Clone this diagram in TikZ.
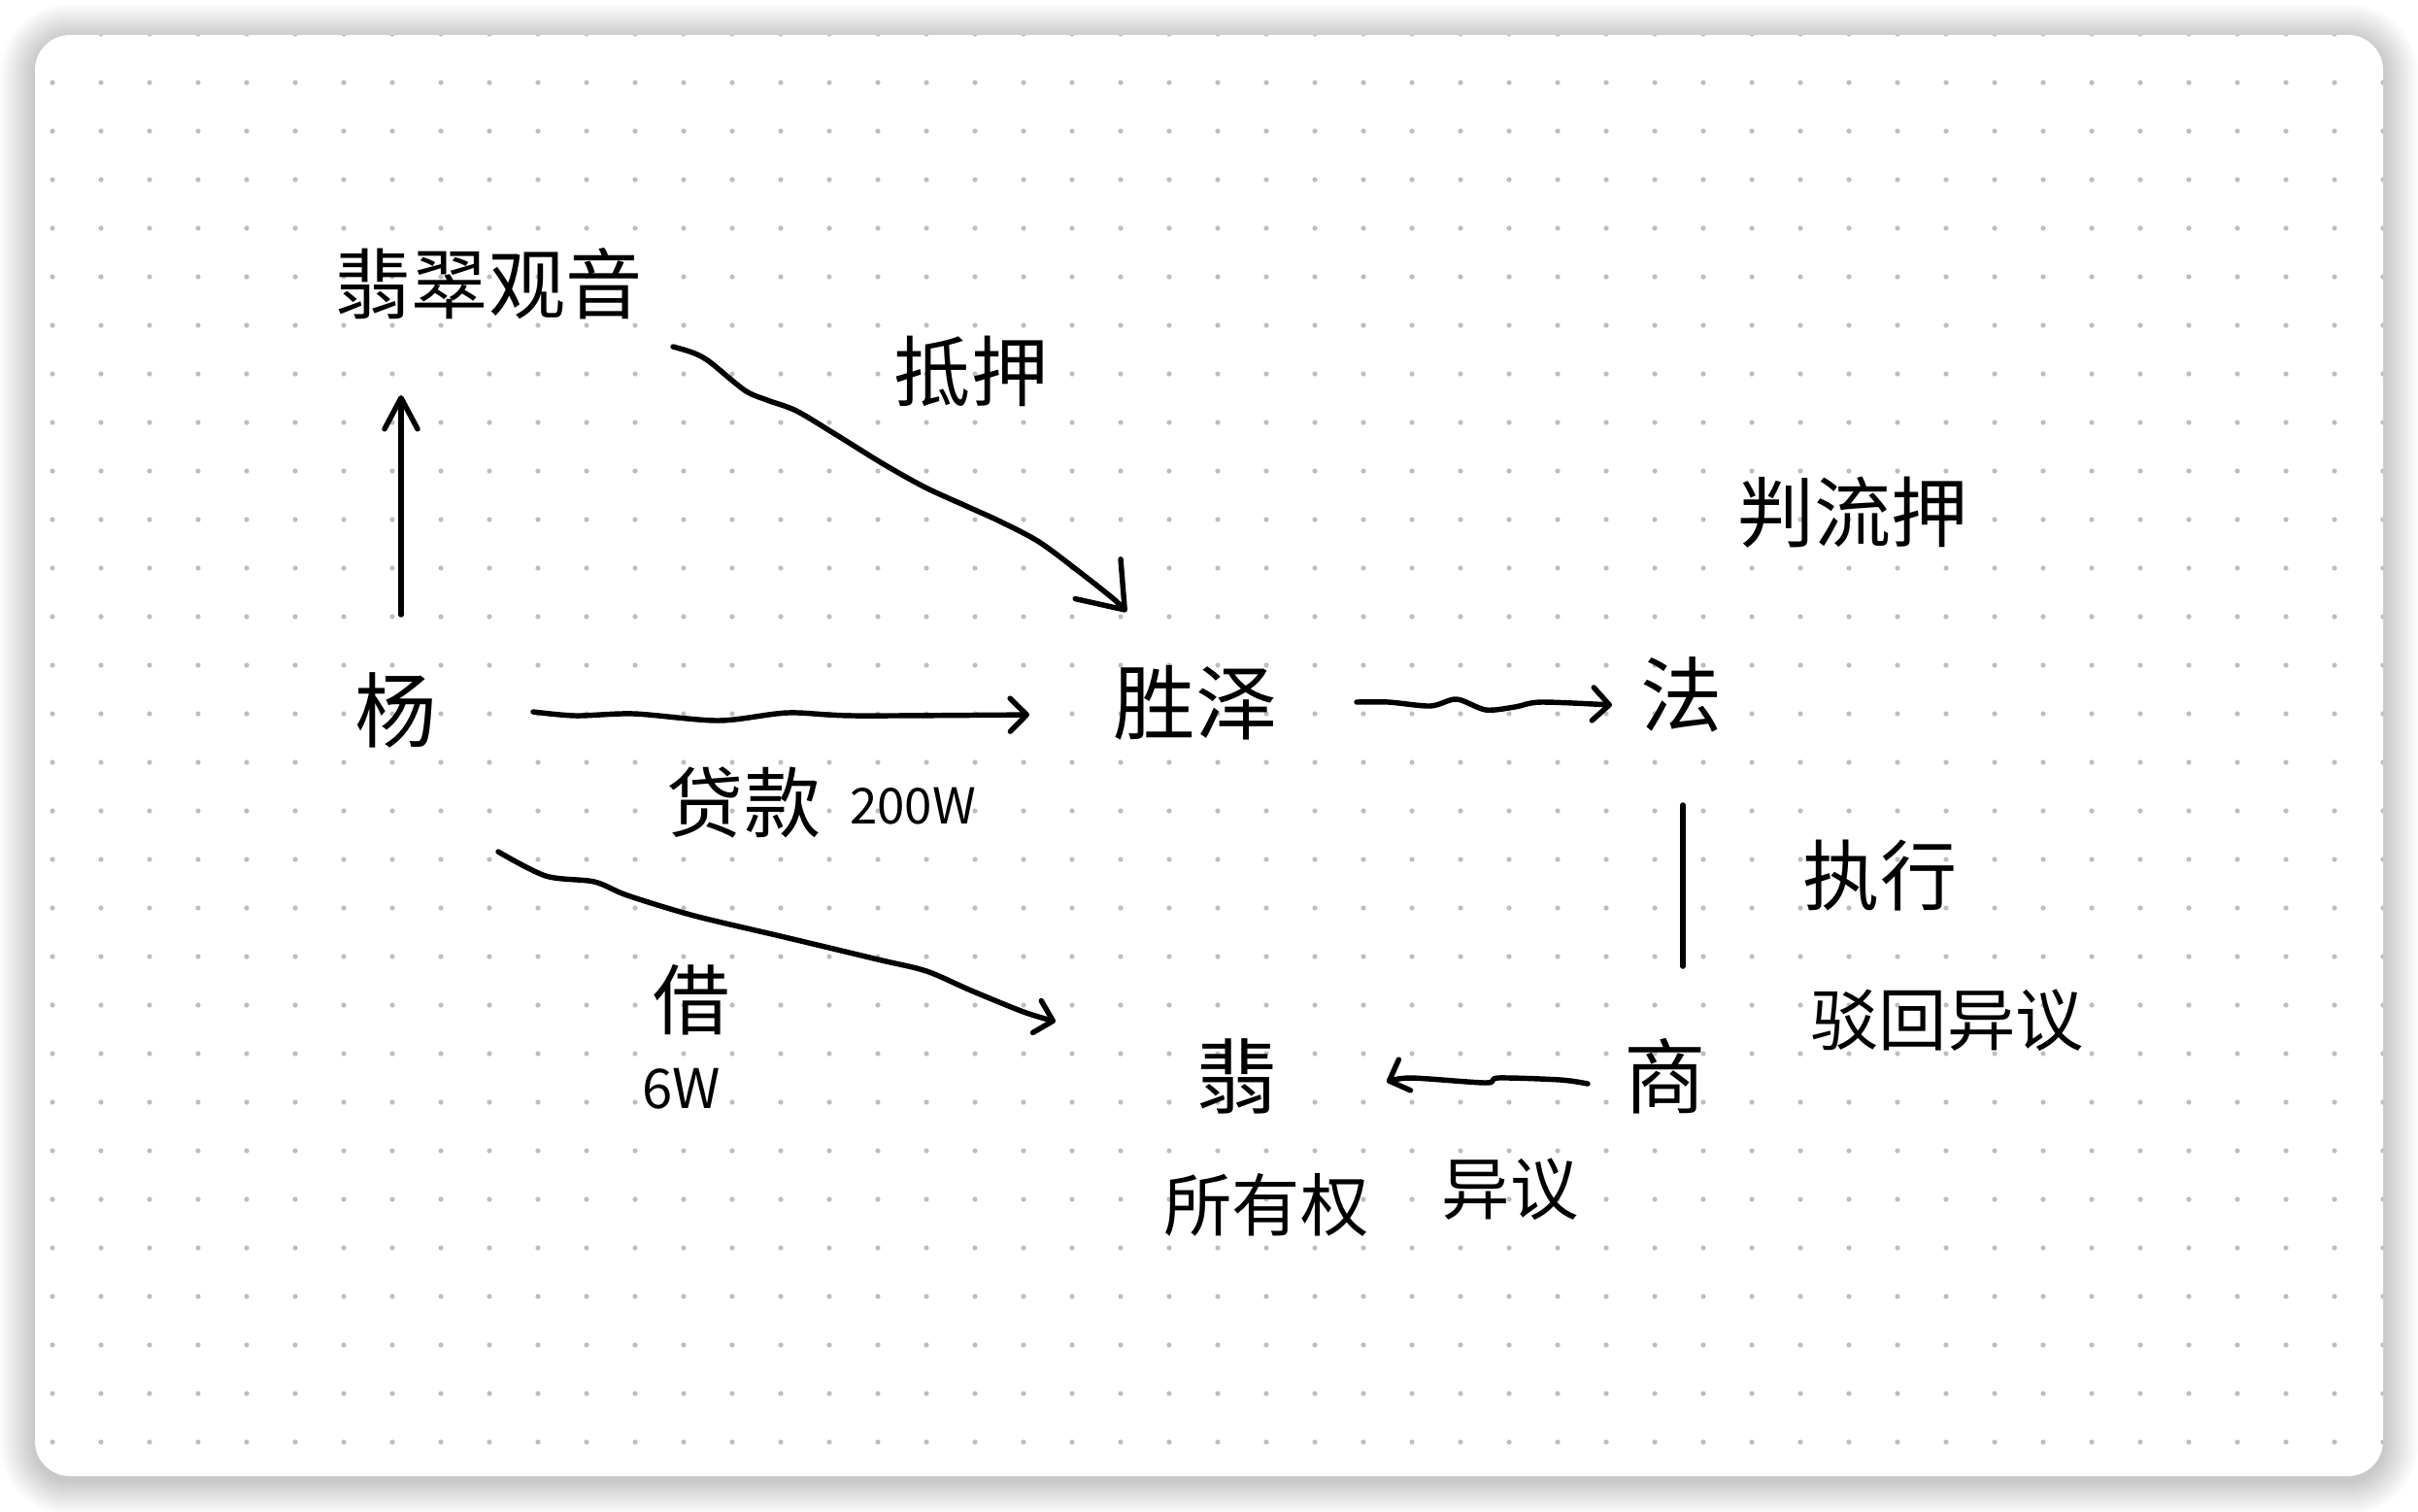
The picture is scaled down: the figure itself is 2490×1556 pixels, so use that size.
\documentclass[tikz,border=0pt]{standalone}
\usepackage{fontspec}
\newfontfamily\cjk{Noto Sans CJK SC}
\usetikzlibrary{arrows.meta}
\definecolor{dotgray}{HTML}{BEBEBE}
\begin{document}
\begin{tikzpicture}[x=0.01cm,y=-0.01cm,
  ink/.style={line width=1.55pt, line cap=round, line join=round, black},
  big/.style={font=\cjk\fontsize{24pt}{28pt}\selectfont, inner sep=0pt},
  mid/.style={font=\cjk\fontsize{22.5pt}{26pt}\selectfont, inner sep=0pt},
  small/.style={font=\cjk\fontsize{20pt}{24pt}\selectfont, inner sep=0pt},
  tipS/.style={-{Straight Barb[length=0.17cm,width=0.34cm,round]}},
  tipUp/.style={-{Straight Barb[length=0.32cm,width=0.34cm,round]}},
  tipL/.style={-{Straight Barb[length=0.42cm,width=0.62cm,round]}},
]
\useasboundingbox (0,0) rectangle (2490,1556);
\fill[white] (0,0) rectangle (2490,1556);
% shadow
\foreach \i in {1,...,18}{
  \pgfmathsetmacro\rr{0.36+0.02*\i}
  \fill[black, opacity=0.011, rounded corners=\rr cm] (36-2*\i,40-2*\i) rectangle (2454+2*\i,1524+2*\i);
}
% card
\fill[white, rounded corners=0.36cm] (36,36) rectangle (2454,1520);
\begin{scope}
  \clip[rounded corners=0.36cm] (36,36) rectangle (2454,1520);
  \foreach \xx in {0,...,48}{
    \foreach \yy in {0,...,29}{
      \fill[dotgray] (54+50*\xx,35+50*\yy) circle (0.026cm);
    }
  }
\end{scope}

% nodes
\node[mid] (fcgy) at (503,292) {翡翠观音};
\node[big] (yang) at (408,731) {杨};
\node[big] (sz) at (1231,724) {胜泽};
\node[big] (fa) at (1732,715) {法};
\node[big] (shang) at (1715,1108) {商};
\node[big] (fei) at (1274,1108) {翡};
\node[mid] (diya) at (1000,382) {抵押};
\node[mid] (pan) at (1908,528) {判流押};
\node[mid] (zhixing) at (1936,901) {执行};
\node[small] (bohui) at (2005,1051) {驳回异议};
\node[small] (suoyou) at (1304,1241) {所有权};
\node[small] (yiyi) at (1555,1225) {异议};
\node[mid] (jie) at (712,1030) {借};
\node[font=\cjk\fontsize{16pt}{19pt}\selectfont, inner sep=0pt] (sixw) at (702,1121) {6W};
\node[mid] (daikuan) at (766,826) {贷款};
\node[font=\cjk\fontsize{14.5pt}{18pt}\selectfont, inner sep=0pt] (amt) at (940,830) {200W};

% connector end points
\coordinate (a1s) at (413,633);  \coordinate (a1e) at (413,407);
\coordinate (a2s) at (549,733);  \coordinate (a2e) at (1060,736);
\coordinate (a3s) at (693,357);  \coordinate (a3e) at (1160,630);
\coordinate (a4s) at (1397,723); \coordinate (a4e) at (1660,726);
\coordinate (a5s) at (1733,829); \coordinate (a5e) at (1733,995);
\coordinate (a6s) at (1635,1116); \coordinate (a6e) at (1428,1114);
\coordinate (a7s) at (513,877);  \coordinate (a7e) at (1087,1052);

% connectors
\draw[ink, tipUp] (a1s) -- (a1e);
\draw[ink, tipS] plot[smooth, tension=0.5] coordinates {(a2s) (593,737) (653,735) (740,742) (811,734) (881,737) (a2e)};
\draw[ink, tipL] plot[smooth, tension=0.5] coordinates {(a3s) (713,363) (730,372) (767,402) (790,412) (820,423) (860,447) (910,478) (953,502) (997,522) (1030,537) (1070,558) (1113,590) (1147,617) (a3e)};
\draw[ink, tipS] plot[smooth, tension=0.5] coordinates {(a4s) (1430,723) (1473,727) (1500,720) (1530,731) (1560,728) (1587,723) (a4e)};
\draw[ink] (a5s) -- (a5e);
\draw[ink, tipS] plot[smooth, tension=0.5] coordinates {(a6s) (1607,1112) (1543,1110) (1530,1115) (1453,1110) (a6e)};
\draw[ink, tipS] plot[smooth, tension=0.5] coordinates {(a7s) (562,902) (612,908) (646,922) (715,943) (808,965) (904,988) (954,1000) (1000,1020) (1054,1042) (a7e)};
\end{tikzpicture}
\end{document}
